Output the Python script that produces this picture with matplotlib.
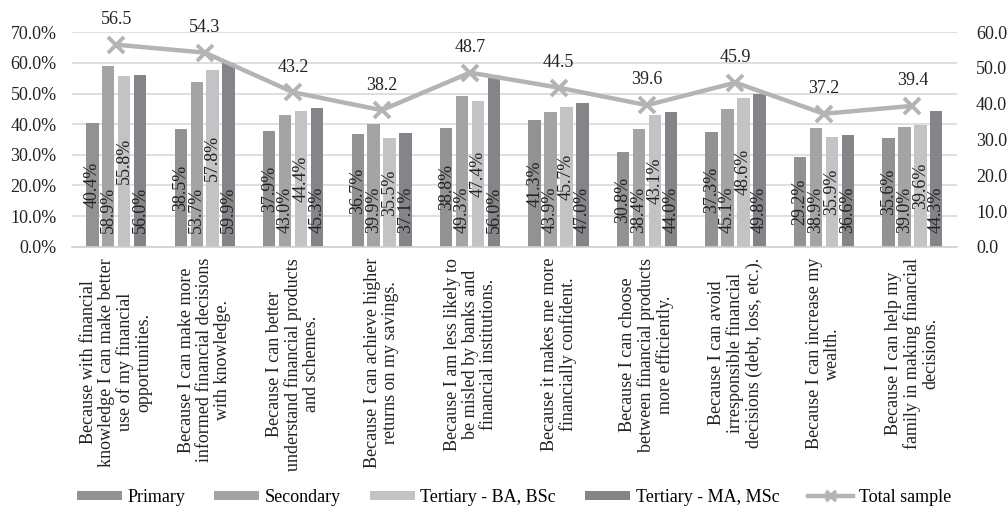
import numpy as np
import matplotlib
matplotlib.use('Agg')
from matplotlib import pyplot as plt
from matplotlib.ticker import FuncFormatter

plt.rcParams['font.family'] = ['Liberation Serif', 'DejaVu Serif']

categories = [
    'Because with financial\nknowledge I can make better\nuse of my financial\nopportunities.',
    'Because I can make more\ninformed financial decisions\nwith knowledge.',
    'Because I can better\nunderstand financial products\nand schemes.',
    'Because I can achieve higher\nreturns on my savings.',
    'Because I am less likely to\nbe misled by banks and\nfinancial institutions.',
    'Because it makes me more\nfinancially confident.',
    'Because I can choose\nbetween financial products\nmore efficiently.',
    'Because I can avoid\nirresponsible financial\ndecisions (debt, loss, etc.).',
    'Because I can increase my\nwealth.',
    'Because I can help my\nfamily in making financial\ndecisions.',
]

primary = [40.4, 38.5, 37.9, 36.7, 38.8, 41.3, 30.8, 37.3, 29.2, 35.6]
secondary = [58.9, 53.7, 43.0, 39.9, 49.3, 43.9, 38.4, 45.1, 38.9, 39.0]
tertiary_ba = [55.8, 57.8, 44.4, 35.5, 47.4, 45.7, 43.1, 48.6, 35.9, 39.6]
tertiary_ma = [56.0, 59.9, 45.3, 37.1, 56.0, 47.0, 44.0, 49.8, 36.6, 44.3]
total_sample = [56.5, 54.3, 43.2, 38.2, 48.7, 44.5, 39.6, 45.9, 37.2, 39.4]

series_names = ['Primary', 'Secondary', 'Tertiary - BA, BSc', 'Tertiary - MA, MSc']
series_vals = [primary, secondary, tertiary_ba, tertiary_ma]
colors = ['#929294', '#a4a4a6', '#c3c3c5', '#858589']
# odd series labels sit at the bar base, others centred
label_at_base = [False, True, False, True]

fig = plt.figure(figsize=(10.08, 5.11), dpi=100)
ax = fig.add_axes([0.0714, 0.517, 0.8776, 0.42])
ax2 = ax.twinx()

x = np.arange(len(categories))
width = 0.14
offsets = [-0.27, -0.09, 0.09, 0.27]

for vals, name, c, off, base in zip(series_vals, series_names, colors, offsets, label_at_base):
    bars = ax.bar(x + off, vals, width=width, color=c, label=name, zorder=2)
    for b, v in zip(bars, vals):
        cx = b.get_x() + b.get_width() / 2
        if base:
            ax.text(cx, 4.4, '{:.1f}%'.format(v), rotation=90, ha='center', va='bottom',
                    fontsize=13, color='#222222', zorder=3)
        else:
            ax.text(cx, v / 2, '{:.1f}%'.format(v), rotation=90, ha='center', va='center',
                    fontsize=13, color='#222222', zorder=3)

ax.set_ylim(0, 70)
ax.set_yticks(np.arange(0, 71, 10))
ax.yaxis.set_major_formatter(FuncFormatter(lambda v, p: '{:.1f}%'.format(v)))
ax.set_xlim(-0.5, len(categories) - 0.5)
ax.grid(axis='y', color='#d9d9d9', linewidth=1.2, zorder=0)
ax.set_axisbelow(True)
for s in ['top', 'right', 'left']:
    ax.spines[s].set_visible(False)
ax.spines['bottom'].set_color('#d0d0d0')
ax.spines['bottom'].set_linewidth(1.2)
ax.tick_params(axis='both', length=0, labelsize=13, colors='#222222')
ax.tick_params(axis='y', pad=11)
ax.set_xticks(x)
ax.set_xticklabels(categories, rotation=90, ha='center', va='top',
                   multialignment='center', fontsize=13, linespacing=1.08)
ax.tick_params(axis='x', pad=8)

line, = ax2.plot(x, total_sample, color='#b4b4b6', linewidth=3.2, marker='x',
                 markersize=12, markeredgewidth=2.8, label='Total sample', zorder=4)
for xi, v in zip(x, total_sample):
    ax2.annotate('{:.1f}'.format(v), (xi, v), xytext=(0, 12), textcoords='offset points',
                 ha='center', va='bottom', fontsize=13, color='#222222')
ax2.set_ylim(0, 60)
ax2.set_yticks(np.arange(0, 61, 10))
ax2.yaxis.set_major_formatter(FuncFormatter(lambda v, p: '{:.1f}'.format(v)))
ax2.tick_params(axis='y', length=0, labelsize=13, colors='#222222', pad=14)
for s in ['top', 'right', 'left', 'bottom']:
    ax2.spines[s].set_visible(False)

handles = ax.get_legend_handles_labels()[0] + [line]
labels = series_names + ['Total sample']
fig.legend(handles, labels, loc='lower center', bbox_to_anchor=(0.51, -0.022), ncol=5,
           frameon=False, fontsize=13, handlelength=2.5, handleheight=0.45,
           columnspacing=1.6, handletextpad=0.3, markerscale=0.6)

fig.savefig('out.png', dpi=100)
